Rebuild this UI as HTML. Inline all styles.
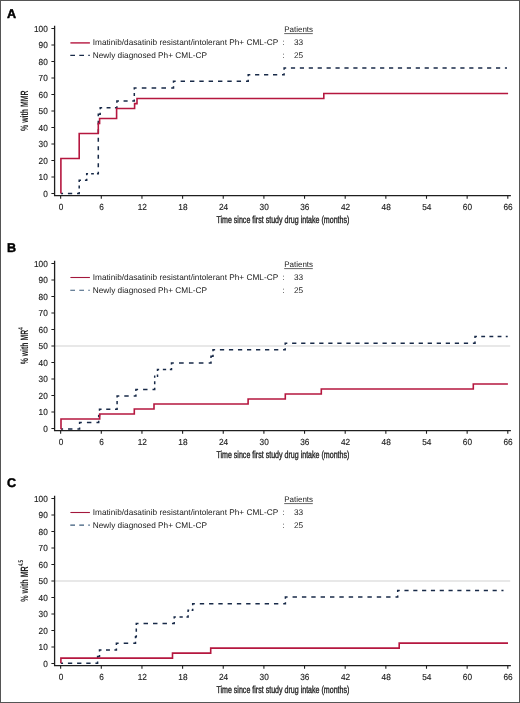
<!DOCTYPE html>
<html><head><meta charset="utf-8"><title>Response curves</title>
<style>html,body{margin:0;padding:0;background:#fff;}svg{display:block;will-change:transform;text-rendering:geometricPrecision;font-family:"Liberation Sans",sans-serif;}</style>
</head><body>
<svg width="520" height="703" viewBox="0 0 520 703" font-family='"Liberation Sans", sans-serif'>
<rect x="0" y="0" width="520" height="703" fill="#fff"/>
<g><text x="7.1" y="17.6" font-size="12.6" font-weight="bold" fill="#000" stroke="#000" stroke-width="0.45">A</text>
<path d="M54.6,25.8V195.6H510.9" fill="none" stroke="#1e1e1e" stroke-width="1.3"/>
<path d="M51.4,193.54H54.6M51.4,177.03H54.6M51.4,160.53H54.6M51.4,144.02H54.6M51.4,127.52H54.6M51.4,111.01H54.6M51.4,94.51H54.6M51.4,78H54.6M51.4,61.5H54.6M51.4,44.99H54.6M51.4,28.49H54.6M60.65,195.6V198.7M101.3,195.6V198.7M141.95,195.6V198.7M182.6,195.6V198.7M223.25,195.6V198.7M263.9,195.6V198.7M304.55,195.6V198.7M345.2,195.6V198.7M385.85,195.6V198.7M426.5,195.6V198.7M467.15,195.6V198.7M507.8,195.6V198.7" stroke="#1e1e1e" stroke-width="1.1" fill="none"/>
<g font-size="8.8" fill="#222" stroke="#222" stroke-width="0.15"><text x="47.8" y="196.64" text-anchor="end" textLength="4.6" lengthAdjust="spacingAndGlyphs">0</text><text x="47.8" y="180.13" text-anchor="end" textLength="9.2" lengthAdjust="spacingAndGlyphs">10</text><text x="47.8" y="163.63" text-anchor="end" textLength="9.2" lengthAdjust="spacingAndGlyphs">20</text><text x="47.8" y="147.12" text-anchor="end" textLength="9.2" lengthAdjust="spacingAndGlyphs">30</text><text x="47.8" y="130.62" text-anchor="end" textLength="9.2" lengthAdjust="spacingAndGlyphs">40</text><text x="47.8" y="114.11" text-anchor="end" textLength="9.2" lengthAdjust="spacingAndGlyphs">50</text><text x="47.8" y="97.61" text-anchor="end" textLength="9.2" lengthAdjust="spacingAndGlyphs">60</text><text x="47.8" y="81.1" text-anchor="end" textLength="9.2" lengthAdjust="spacingAndGlyphs">70</text><text x="47.8" y="64.6" text-anchor="end" textLength="9.2" lengthAdjust="spacingAndGlyphs">80</text><text x="47.8" y="48.09" text-anchor="end" textLength="9.2" lengthAdjust="spacingAndGlyphs">90</text><text x="47.8" y="31.59" text-anchor="end" textLength="13.8" lengthAdjust="spacingAndGlyphs">100</text><text x="60.95" y="209.8" text-anchor="middle" textLength="4.6" lengthAdjust="spacingAndGlyphs">0</text><text x="101.6" y="209.8" text-anchor="middle" textLength="4.6" lengthAdjust="spacingAndGlyphs">6</text><text x="142.25" y="209.8" text-anchor="middle" textLength="9.2" lengthAdjust="spacingAndGlyphs">12</text><text x="182.9" y="209.8" text-anchor="middle" textLength="9.2" lengthAdjust="spacingAndGlyphs">18</text><text x="223.55" y="209.8" text-anchor="middle" textLength="9.2" lengthAdjust="spacingAndGlyphs">24</text><text x="264.2" y="209.8" text-anchor="middle" textLength="9.2" lengthAdjust="spacingAndGlyphs">30</text><text x="304.85" y="209.8" text-anchor="middle" textLength="9.2" lengthAdjust="spacingAndGlyphs">36</text><text x="345.5" y="209.8" text-anchor="middle" textLength="9.2" lengthAdjust="spacingAndGlyphs">42</text><text x="386.15" y="209.8" text-anchor="middle" textLength="9.2" lengthAdjust="spacingAndGlyphs">48</text><text x="426.8" y="209.8" text-anchor="middle" textLength="9.2" lengthAdjust="spacingAndGlyphs">54</text><text x="467.45" y="209.8" text-anchor="middle" textLength="9.2" lengthAdjust="spacingAndGlyphs">60</text><text x="508.1" y="209.8" text-anchor="middle" textLength="9.2" lengthAdjust="spacingAndGlyphs">66</text></g>
<text x="216.4" y="223.3" font-size="10" fill="#222" stroke="#222" stroke-width="0.35" textLength="133"  lengthAdjust="spacingAndGlyphs">Time since first study drug intake (months)</text>
<text transform="translate(27.8,110.7) rotate(-90)" x="-20.2" y="0" font-size="10.7" font-weight="bold" fill="#222" textLength="40.4" lengthAdjust="spacingAndGlyphs">% with MMR</text>
<line x1="70.4" y1="42.9" x2="89.9" y2="42.9" stroke="#b5173f" stroke-width="1.4"/>
<line x1="70.3" y1="55.4" x2="89.8" y2="55.4" stroke="#182a48" stroke-width="1.4" stroke-dasharray="4.7 4.3"/>
<g font-size="8.28" fill="#222"><text x="92.8" y="45">Imatinib/dasatinib resistant/intolerant Ph+ CML-CP</text><text x="92.8" y="57.6">Newly diagnosed Ph+ CML-CP</text><text x="284.2" y="32.4" font-size="8">Patients</text><text x="282.2" y="45">:</text><text x="282.2" y="57.6">:</text><text x="294" y="45">33</text><text x="294" y="57.6">25</text></g>
<line x1="284.2" y1="33.6" x2="312.8" y2="33.6" stroke="#222" stroke-width="0.7"/>
<path d="M60.9,193.54L63.05,193.54M67.9,193.54L72.2,193.54M77.05,193.54L79.2,193.54L79.2,191.99M79.2,188.49L79.2,185.39M79.2,181.89L79.2,180.34L80.96,180.34M84.94,180.34L86.7,180.34L86.7,178.78M86.7,175.29L86.7,173.73L88.06,173.73M91.14,173.73L93.86,173.73M96.94,173.73L98.3,173.73L98.3,171.74M98.3,167.24L98.3,163.25M98.3,158.75L98.3,154.76M98.3,150.26L98.3,146.27M98.3,141.78L98.3,137.79M98.3,133.29L98.3,129.3M98.3,124.8L98.3,120.81M98.3,116.31L98.3,114.32L100.2,114.32L100.2,112.76M100.2,109.27L100.2,107.71L102.16,107.71M106.59,107.71L110.51,107.71M114.94,107.71L116.9,107.71L116.9,106.16M116.9,102.66L116.9,101.11L118.94,101.11M123.56,101.11L127.64,101.11M132.26,101.11L134.3,101.11L134.3,99.56M134.3,96.06L134.3,92.96M134.3,89.46L134.3,87.91L136.6,87.91M141.8,87.91L146.4,87.91M151.6,87.91L156.2,87.91M161.4,87.91L166,87.91M171.2,87.91L173.5,87.91L173.5,86.36M173.5,82.86L173.5,81.31L175.69,81.31M180.64,81.31L185.03,81.31M189.98,81.31L194.37,81.31M199.32,81.31L203.71,81.31M208.66,81.31L213.04,81.31M217.99,81.31L222.38,81.31M227.33,81.31L231.72,81.31M236.67,81.31L241.06,81.31M246.01,81.31L248.2,81.31L248.2,79.75M248.2,76.26L248.2,74.7L250.31,74.7M255.07,74.7L259.28,74.7M264.04,74.7L268.26,74.7M273.02,74.7L277.23,74.7M281.99,74.7L284.1,74.7L284.1,73.15M284.1,69.65L284.1,68.1L286.2,68.1M290.92,68.1L295.11,68.1M299.84,68.1L304.03,68.1M308.75,68.1L312.94,68.1M317.67,68.1L321.86,68.1M326.58,68.1L330.78,68.1M335.5,68.1L339.69,68.1M344.42,68.1L348.61,68.1M353.33,68.1L357.52,68.1M362.25,68.1L366.44,68.1M371.16,68.1L375.36,68.1M380.08,68.1L384.27,68.1M389,68.1L393.19,68.1M397.91,68.1L402.1,68.1M406.83,68.1L411.02,68.1M415.74,68.1L419.94,68.1M424.66,68.1L428.85,68.1M433.58,68.1L437.77,68.1M442.49,68.1L446.68,68.1M451.41,68.1L455.6,68.1M460.32,68.1L464.52,68.1M469.24,68.1L473.43,68.1M478.16,68.1L482.35,68.1M487.07,68.1L491.26,68.1M495.99,68.1L500.18,68.1M504.9,68.1L507,68.1" fill="none" stroke="#182a48" stroke-width="1.5" stroke-linejoin="miter"/>
<path d="M60.9,193.54H60.9V158.55H79.2V133.46H98.3V123.56H99.6V118.44H116.6V108.54H134.6V103.59H137V98.47H323.8V93.52H508.1" fill="none" stroke="#b5173f" stroke-width="1.6"/></g>
<g><text x="7.1" y="252.2" font-size="12.6" font-weight="bold" fill="#000" stroke="#000" stroke-width="0.45">B</text>
<line x1="55" y1="346.01" x2="510.2" y2="346.01" stroke="#d2d2d2" stroke-width="1.1"/>
<path d="M54.6,260.8V430.6H510.9" fill="none" stroke="#1e1e1e" stroke-width="1.3"/>
<path d="M51.4,428.54H54.6M51.4,412.03H54.6M51.4,395.53H54.6M51.4,379.02H54.6M51.4,362.52H54.6M51.4,346.01H54.6M51.4,329.51H54.6M51.4,313H54.6M51.4,296.5H54.6M51.4,279.99H54.6M51.4,263.49H54.6M60.65,430.6V433.7M101.3,430.6V433.7M141.95,430.6V433.7M182.6,430.6V433.7M223.25,430.6V433.7M263.9,430.6V433.7M304.55,430.6V433.7M345.2,430.6V433.7M385.85,430.6V433.7M426.5,430.6V433.7M467.15,430.6V433.7M507.8,430.6V433.7" stroke="#1e1e1e" stroke-width="1.1" fill="none"/>
<g font-size="8.8" fill="#222" stroke="#222" stroke-width="0.15"><text x="47.8" y="431.64" text-anchor="end" textLength="4.6" lengthAdjust="spacingAndGlyphs">0</text><text x="47.8" y="415.13" text-anchor="end" textLength="9.2" lengthAdjust="spacingAndGlyphs">10</text><text x="47.8" y="398.63" text-anchor="end" textLength="9.2" lengthAdjust="spacingAndGlyphs">20</text><text x="47.8" y="382.12" text-anchor="end" textLength="9.2" lengthAdjust="spacingAndGlyphs">30</text><text x="47.8" y="365.62" text-anchor="end" textLength="9.2" lengthAdjust="spacingAndGlyphs">40</text><text x="47.8" y="349.12" text-anchor="end" textLength="9.2" lengthAdjust="spacingAndGlyphs">50</text><text x="47.8" y="332.61" text-anchor="end" textLength="9.2" lengthAdjust="spacingAndGlyphs">60</text><text x="47.8" y="316.1" text-anchor="end" textLength="9.2" lengthAdjust="spacingAndGlyphs">70</text><text x="47.8" y="299.6" text-anchor="end" textLength="9.2" lengthAdjust="spacingAndGlyphs">80</text><text x="47.8" y="283.09" text-anchor="end" textLength="9.2" lengthAdjust="spacingAndGlyphs">90</text><text x="47.8" y="266.59" text-anchor="end" textLength="13.8" lengthAdjust="spacingAndGlyphs">100</text><text x="60.95" y="444.8" text-anchor="middle" textLength="4.6" lengthAdjust="spacingAndGlyphs">0</text><text x="101.6" y="444.8" text-anchor="middle" textLength="4.6" lengthAdjust="spacingAndGlyphs">6</text><text x="142.25" y="444.8" text-anchor="middle" textLength="9.2" lengthAdjust="spacingAndGlyphs">12</text><text x="182.9" y="444.8" text-anchor="middle" textLength="9.2" lengthAdjust="spacingAndGlyphs">18</text><text x="223.55" y="444.8" text-anchor="middle" textLength="9.2" lengthAdjust="spacingAndGlyphs">24</text><text x="264.2" y="444.8" text-anchor="middle" textLength="9.2" lengthAdjust="spacingAndGlyphs">30</text><text x="304.85" y="444.8" text-anchor="middle" textLength="9.2" lengthAdjust="spacingAndGlyphs">36</text><text x="345.5" y="444.8" text-anchor="middle" textLength="9.2" lengthAdjust="spacingAndGlyphs">42</text><text x="386.15" y="444.8" text-anchor="middle" textLength="9.2" lengthAdjust="spacingAndGlyphs">48</text><text x="426.8" y="444.8" text-anchor="middle" textLength="9.2" lengthAdjust="spacingAndGlyphs">54</text><text x="467.45" y="444.8" text-anchor="middle" textLength="9.2" lengthAdjust="spacingAndGlyphs">60</text><text x="508.1" y="444.8" text-anchor="middle" textLength="9.2" lengthAdjust="spacingAndGlyphs">66</text></g>
<text x="216.4" y="458.3" font-size="10" fill="#222" stroke="#222" stroke-width="0.35" textLength="133"  lengthAdjust="spacingAndGlyphs">Time since first study drug intake (months)</text>
<text transform="translate(27.8,345.85) rotate(-90)" x="-18.45" y="0" font-size="10.7" font-weight="bold" fill="#222" textLength="36.9" lengthAdjust="spacingAndGlyphs">% with MR<tspan font-size="6.8" dy="-4.6">4</tspan></text>
<line x1="70.4" y1="277.5" x2="89.9" y2="277.5" stroke="#a3173c" stroke-width="1.1"/>
<line x1="70.3" y1="290.2" x2="89.8" y2="290.2" stroke="#3a5a7a" stroke-width="1.1" stroke-dasharray="4.7 4.3"/>
<g font-size="8.28" fill="#222"><text x="92.8" y="280">Imatinib/dasatinib resistant/intolerant Ph+ CML-CP</text><text x="92.8" y="292.6">Newly diagnosed Ph+ CML-CP</text><text x="284.2" y="267.4" font-size="8">Patients</text><text x="282.2" y="280">:</text><text x="282.2" y="292.6">:</text><text x="294" y="280">33</text><text x="294" y="292.6">25</text></g>
<line x1="284.2" y1="268.6" x2="312.8" y2="268.6" stroke="#222" stroke-width="0.7"/>
<path d="M60.9,428.99L63.1,428.99M68.05,428.99L72.45,428.99M77.4,428.99L79.6,428.99L79.6,427.44M79.6,423.94L79.6,422.39L81.84,422.39M86.91,422.39L91.39,422.39M96.46,422.39L98.7,422.39L98.7,420.84M98.7,417.34L98.7,415.79L99.5,415.79L99.5,414.23M99.5,410.74L99.5,409.18L101.57,409.18M106.23,409.18L110.37,409.18M115.03,409.18L117.1,409.18L117.1,407.63M117.1,404.13L117.1,401.03M117.1,397.53L117.1,395.98L119.31,395.98M124.29,395.98L128.71,395.98M133.69,395.98L135.9,395.98L135.9,394.43M135.9,390.93L135.9,389.38L138.11,389.38M143.09,389.38L147.51,389.38M152.49,389.38L154.7,389.38L154.7,387.83M154.7,384.33L154.7,381.22M154.7,377.73L154.7,376.17L155.36,376.17M156.84,376.17L157.5,376.17L157.5,374.62M157.5,371.12L157.5,369.57L159.15,369.57M162.85,369.57L166.15,369.57M169.85,369.57L171.5,369.57L171.5,368.02M171.5,364.52L171.5,362.97L173.82,362.97M179.05,362.97L183.7,362.97M188.93,362.97L193.57,362.97M198.8,362.97L203.45,362.97M208.68,362.97L211,362.97L211,361.42M211,357.92L211,356.37L213,356.37L213,354.82M213,351.32L213,349.77L215.12,349.77M219.9,349.77L224.15,349.77M228.93,349.77L233.17,349.77M237.95,349.77L242.2,349.77M246.98,349.77L251.22,349.77M256,349.77L260.25,349.77M265.03,349.77L269.27,349.77M274.05,349.77L278.3,349.77M283.08,349.77L285.2,349.77L285.2,348.21M285.2,344.72L285.2,343.16L287.32,343.16M292.11,343.16L296.36,343.16M301.15,343.16L305.4,343.16M310.19,343.16L314.44,343.16M319.23,343.16L323.48,343.16M328.27,343.16L332.51,343.16M337.3,343.16L341.55,343.16M346.34,343.16L350.59,343.16M355.38,343.16L359.63,343.16M364.42,343.16L368.67,343.16M373.46,343.16L377.7,343.16M382.5,343.16L386.74,343.16M391.53,343.16L395.78,343.16M400.57,343.16L404.82,343.16M409.61,343.16L413.86,343.16M418.65,343.16L422.9,343.16M427.69,343.16L431.93,343.16M436.72,343.16L440.97,343.16M445.76,343.16L450.01,343.16M454.8,343.16L459.05,343.16M463.84,343.16L468.09,343.16M472.88,343.16L475,343.16L475,341.61M475,338.11L475,336.56L476.92,336.56M481.25,336.56L485.1,336.56M489.43,336.56L493.27,336.56M497.6,336.56L501.45,336.56M505.78,336.56L507.7,336.56" fill="none" stroke="#182a48" stroke-width="1.5" stroke-linejoin="miter"/>
<path d="M60.9,428.99H61V418.99H99.7V413.99H134.3V408.99H154V403.98H248.1V398.98H285.3V393.98H321.3V388.98H473.3V383.98H507.9" fill="none" stroke="#b5173f" stroke-width="1.6"/></g>
<g><text x="7.1" y="487.4" font-size="12.6" font-weight="bold" fill="#000" stroke="#000" stroke-width="0.45">C</text>
<line x1="55" y1="581.01" x2="510.2" y2="581.01" stroke="#d2d2d2" stroke-width="1.1"/>
<path d="M54.6,495.8V665.6H510.9" fill="none" stroke="#1e1e1e" stroke-width="1.3"/>
<path d="M51.4,663.54H54.6M51.4,647.03H54.6M51.4,630.53H54.6M51.4,614.02H54.6M51.4,597.52H54.6M51.4,581.01H54.6M51.4,564.51H54.6M51.4,548H54.6M51.4,531.5H54.6M51.4,514.99H54.6M51.4,498.49H54.6M60.65,665.6V668.7M101.3,665.6V668.7M141.95,665.6V668.7M182.6,665.6V668.7M223.25,665.6V668.7M263.9,665.6V668.7M304.55,665.6V668.7M345.2,665.6V668.7M385.85,665.6V668.7M426.5,665.6V668.7M467.15,665.6V668.7M507.8,665.6V668.7" stroke="#1e1e1e" stroke-width="1.1" fill="none"/>
<g font-size="8.8" fill="#222" stroke="#222" stroke-width="0.15"><text x="47.8" y="666.64" text-anchor="end" textLength="4.6" lengthAdjust="spacingAndGlyphs">0</text><text x="47.8" y="650.13" text-anchor="end" textLength="9.2" lengthAdjust="spacingAndGlyphs">10</text><text x="47.8" y="633.63" text-anchor="end" textLength="9.2" lengthAdjust="spacingAndGlyphs">20</text><text x="47.8" y="617.12" text-anchor="end" textLength="9.2" lengthAdjust="spacingAndGlyphs">30</text><text x="47.8" y="600.62" text-anchor="end" textLength="9.2" lengthAdjust="spacingAndGlyphs">40</text><text x="47.8" y="584.12" text-anchor="end" textLength="9.2" lengthAdjust="spacingAndGlyphs">50</text><text x="47.8" y="567.61" text-anchor="end" textLength="9.2" lengthAdjust="spacingAndGlyphs">60</text><text x="47.8" y="551.11" text-anchor="end" textLength="9.2" lengthAdjust="spacingAndGlyphs">70</text><text x="47.8" y="534.6" text-anchor="end" textLength="9.2" lengthAdjust="spacingAndGlyphs">80</text><text x="47.8" y="518.09" text-anchor="end" textLength="9.2" lengthAdjust="spacingAndGlyphs">90</text><text x="47.8" y="501.59" text-anchor="end" textLength="13.8" lengthAdjust="spacingAndGlyphs">100</text><text x="60.95" y="679.8" text-anchor="middle" textLength="4.6" lengthAdjust="spacingAndGlyphs">0</text><text x="101.6" y="679.8" text-anchor="middle" textLength="4.6" lengthAdjust="spacingAndGlyphs">6</text><text x="142.25" y="679.8" text-anchor="middle" textLength="9.2" lengthAdjust="spacingAndGlyphs">12</text><text x="182.9" y="679.8" text-anchor="middle" textLength="9.2" lengthAdjust="spacingAndGlyphs">18</text><text x="223.55" y="679.8" text-anchor="middle" textLength="9.2" lengthAdjust="spacingAndGlyphs">24</text><text x="264.2" y="679.8" text-anchor="middle" textLength="9.2" lengthAdjust="spacingAndGlyphs">30</text><text x="304.85" y="679.8" text-anchor="middle" textLength="9.2" lengthAdjust="spacingAndGlyphs">36</text><text x="345.5" y="679.8" text-anchor="middle" textLength="9.2" lengthAdjust="spacingAndGlyphs">42</text><text x="386.15" y="679.8" text-anchor="middle" textLength="9.2" lengthAdjust="spacingAndGlyphs">48</text><text x="426.8" y="679.8" text-anchor="middle" textLength="9.2" lengthAdjust="spacingAndGlyphs">54</text><text x="467.45" y="679.8" text-anchor="middle" textLength="9.2" lengthAdjust="spacingAndGlyphs">60</text><text x="508.1" y="679.8" text-anchor="middle" textLength="9.2" lengthAdjust="spacingAndGlyphs">66</text></g>
<text x="216.4" y="693.3" font-size="10" fill="#222" stroke="#222" stroke-width="0.35" textLength="133"  lengthAdjust="spacingAndGlyphs">Time since first study drug intake (months)</text>
<text transform="translate(27.8,580.9) rotate(-90)" x="-20.9" y="0" font-size="10.7" font-weight="bold" fill="#222" textLength="41.8" lengthAdjust="spacingAndGlyphs">% with MR<tspan font-size="6.8" dy="-4.6">4.5</tspan></text>
<line x1="70.4" y1="512.5" x2="89.9" y2="512.5" stroke="#a3173c" stroke-width="1.1"/>
<line x1="70.3" y1="525.15" x2="89.8" y2="525.15" stroke="#3a5a7a" stroke-width="1.1" stroke-dasharray="4.7 4.3"/>
<g font-size="8.28" fill="#222"><text x="92.8" y="515">Imatinib/dasatinib resistant/intolerant Ph+ CML-CP</text><text x="92.8" y="527.6">Newly diagnosed Ph+ CML-CP</text><text x="284.2" y="502.4" font-size="8">Patients</text><text x="282.2" y="515">:</text><text x="282.2" y="527.6">:</text><text x="294" y="515">33</text><text x="294" y="527.6">25</text></g>
<line x1="284.2" y1="503.6" x2="312.8" y2="503.6" stroke="#222" stroke-width="0.7"/>
<path d="M60.9,663.14L63.06,663.14M67.92,663.14L72.23,663.14M77.09,663.14L81.41,663.14M86.27,663.14L90.58,663.14M95.44,663.14L97.6,663.14L97.6,661.59M97.6,658.09L97.6,656.54L99.5,656.54L99.5,654.99M99.5,651.49L99.5,649.94L101.49,649.94M105.96,649.94L109.94,649.94M114.41,649.94L116.4,649.94L116.4,648.38M116.4,644.89L116.4,643.33L118.64,643.33M123.71,643.33L128.19,643.33M133.26,643.33L135.5,643.33L135.5,641.78M135.5,638.28L135.5,636.73L136.3,636.73L136.3,635.18M136.3,631.68L136.3,628.58M136.3,625.08L136.3,623.53L138.53,623.53M143.55,623.53L148,623.53M153.02,623.53L157.48,623.53M162.5,623.53L166.95,623.53M171.97,623.53L174.2,623.53L174.2,621.98M174.2,618.48L174.2,616.93L175.83,616.93M179.52,616.93L182.78,616.93M186.47,616.93L188.1,616.93L188.1,615.37M188.1,611.88L188.1,610.32L189.18,610.32M191.62,610.32L192.7,610.32L192.7,608.77M192.7,605.27L192.7,603.72L194.88,603.72M199.79,603.72L204.15,603.72M209.06,603.72L213.42,603.72M218.33,603.72L222.69,603.72M227.6,603.72L231.96,603.72M236.87,603.72L241.23,603.72M246.14,603.72L250.5,603.72M255.41,603.72L259.77,603.72M264.68,603.72L269.04,603.72M273.95,603.72L278.31,603.72M283.22,603.72L285.4,603.72L285.4,602.17M285.4,598.67L285.4,597.12L287.6,597.12M292.56,597.12L296.96,597.12M301.92,597.12L306.32,597.12M311.28,597.12L315.67,597.12M320.63,597.12L325.03,597.12M329.99,597.12L334.39,597.12M339.35,597.12L343.75,597.12M348.71,597.12L353.11,597.12M358.07,597.12L362.47,597.12M367.43,597.12L371.82,597.12M376.78,597.12L381.18,597.12M386.14,597.12L390.54,597.12M395.5,597.12L397.7,597.12L397.7,595.57M397.7,592.07L397.7,590.52L399.77,590.52M404.44,590.52L408.59,590.52M413.26,590.52L417.41,590.52M422.08,590.52L426.22,590.52M430.89,590.52L435.04,590.52M439.71,590.52L443.86,590.52M448.53,590.52L452.67,590.52M457.34,590.52L461.49,590.52M466.16,590.52L470.31,590.52M474.98,590.52L479.12,590.52M483.79,590.52L487.94,590.52M492.61,590.52L496.76,590.52M501.43,590.52L503.5,590.52" fill="none" stroke="#182a48" stroke-width="1.5" stroke-linejoin="miter"/>
<path d="M60.9,663.14H60.9V658.14H172.5V653.14H210.7V648.14H399.2V643.14H508" fill="none" stroke="#b5173f" stroke-width="1.6"/></g>
<rect x="0.5" y="0.5" width="519" height="702" fill="none" stroke="#555" stroke-width="1"/>
</svg>
</body></html>
